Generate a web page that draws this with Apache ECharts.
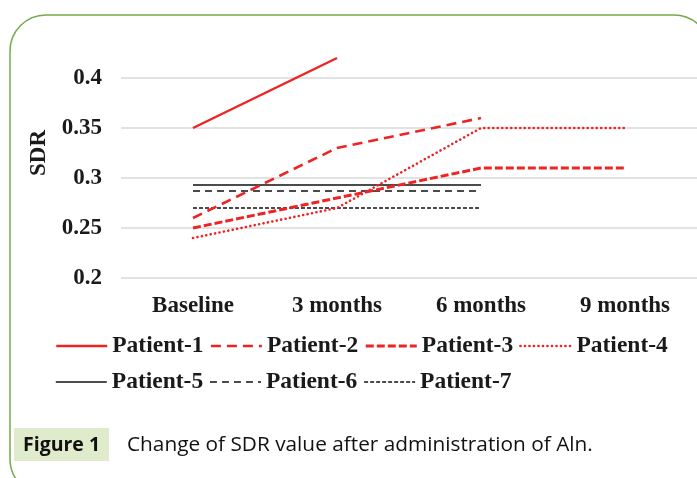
<!DOCTYPE html>
<html>
<head>
<meta charset="utf-8">
<script src="https://cdn.jsdelivr.net/npm/echarts@6/dist/echarts.min.js"></script>
<style>
html,body{margin:0;padding:0;background:#fff;}
#main{width:697px;height:478px;}
</style>
</head>
<body>
<div id="main"></div>
<script>
var categories = ['Baseline', '3 months', '6 months', '9 months'];
var patient1 = [0.35, 0.42, null, null];
var patient2 = [0.26, 0.33, 0.36, null];
var patient3 = [0.25, 0.28, 0.31, 0.31];
var patient4 = [0.24, 0.27, 0.35, 0.35];
var patient5 = [0.293, 0.293, 0.293, null];
var patient6 = [0.287, 0.287, 0.287, null];
var patient7 = [0.270, 0.270, 0.270, null];
var seriesNames = ['Patient-1', 'Patient-2', 'Patient-3', 'Patient-4', 'Patient-5', 'Patient-6', 'Patient-7'];
var yTicks = [0.2, 0.25, 0.3, 0.35, 0.4];

var RED = '#ee2424';
var BLACK = '#111111';
var styles = [
  {color: RED, width: 2.5, type: 'solid', cap: 'butt'},
  {color: RED, width: 2.6, type: [10, 6], cap: 'butt'},
  {color: RED, width: 3, type: [8, 3], cap: 'butt'},
  {color: RED, width: 2.6, type: [0.1, 4.4], cap: 'round'},
  {color: BLACK, width: 1.6, type: 'solid', cap: 'butt'},
  {color: BLACK, width: 1.6, type: [7, 5], cap: 'butt'},
  {color: BLACK, width: 1.6, type: [4, 2], cap: 'butt'}
];
var dataSets = [patient1, patient2, patient3, patient4, patient5, patient6, patient7];

var series = seriesNames.map(function (n, i) {
  return {
    name: n, type: 'line', data: dataSets[i], symbol: 'none', showSymbol: false,
    connectNulls: false, silent: true, animation: false,
    lineStyle: {color: styles[i].color, width: styles[i].width, type: styles[i].type, cap: styles[i].cap},
    itemStyle: {color: styles[i].color},
    z: 10 - i
  };
});

function legendItems(idx) {
  return idx.map(function (i) {
    return {name: seriesNames[i],
      itemStyle: {opacity: 0, borderWidth: 0},
      lineStyle: {color: styles[i].color, width: styles[i].width, type: styles[i].type, cap: styles[i].cap, opacity: 1}};
  });
}
var serifBold = {fontFamily: '"Liberation Serif", "Times New Roman", serif', fontWeight: 'bold', fontSize: 23, color: '#1a1a1a'};
var legendText = Object.assign({}, serifBold, {fontSize: 23.5});

var chart = echarts.init(document.getElementById('main'), null, {renderer: 'canvas'});
chart.setOption({
  backgroundColor: '#ffffff',
  animation: false,
  grid: {left: 121, right: -1, top: 28, bottom: 200, containLabel: false},
  legend: [
    {data: legendItems([0, 1, 2, 3]), left: 55, top: 334, padding: 0, itemWidth: 51, itemHeight: 24, itemGap: 6,
     textStyle: legendText, selectedMode: false, orient: 'horizontal'},
    {data: legendItems([4, 5, 6]), left: 55, top: 370, padding: 0, itemWidth: 51, itemHeight: 24, itemGap: 6,
     textStyle: legendText, selectedMode: false, orient: 'horizontal'}
  ],
  xAxis: {
    type: 'category', data: categories, boundaryGap: true,
    axisLine: {show: false}, axisTick: {show: false},
    axisLabel: Object.assign({margin: 17}, serifBold)
  },
  yAxis: {
    type: 'value', min: 0.2, max: 0.45, interval: 0.05,
    name: 'SDR', nameLocation: 'middle', nameGap: 70, nameRotate: 90,
    nameTextStyle: serifBold,
    axisLine: {show: false}, axisTick: {show: false},
    axisLabel: Object.assign({margin: 19, showMaxLabel: false, formatter: function (v) {
      var r = Math.round(v * 100) / 100;
      return String(r);
    }}, serifBold),
    splitLine: {show: true, showMaxLine: false, lineStyle: {color: '#d9d9d9', width: 1.5}}
  },
  graphic: [
    {type: 'rect', shape: {x: 10, y: 15, width: 700, height: 480, r: 36},
     style: {fill: 'none', stroke: '#77a84a', lineWidth: 1.5}, silent: true, z: 100},
    {type: 'rect', shape: {x: 14, y: 428, width: 95, height: 33},
     style: {fill: '#e0ebcb'}, silent: true, z: 100},
    {type: 'text', x: 23, y: 445, style: {text: 'Figure 1', fontFamily: '"Open Sans", "Noto Sans", sans-serif',
      fontWeight: 'bold', fontSize: 19.5, fill: '#111', verticalAlign: 'middle', align: 'left'}, silent: true, z: 101},
    {type: 'text', x: 127, y: 445, style: {text: 'Change of SDR value after administration of Aln.',
      fontFamily: '"Open Sans", "Noto Sans", sans-serif', fontSize: 20.8, fill: '#111', verticalAlign: 'middle', align: 'left'},
      silent: true, z: 101}
  ],
  series: series
});
</script>
</body>
</html>
